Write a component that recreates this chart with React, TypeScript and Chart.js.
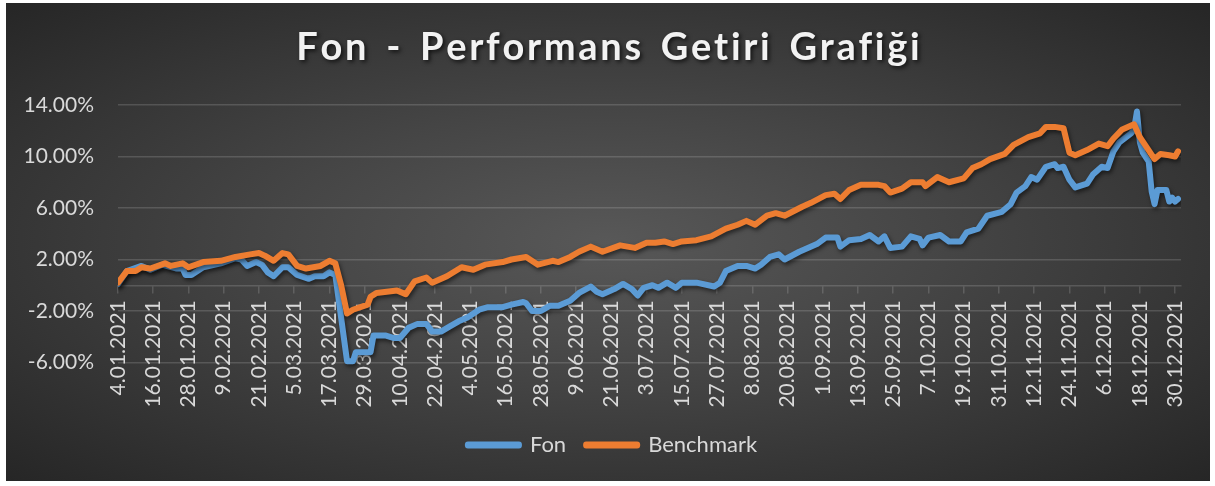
import React, { useEffect, useRef } from 'react';
import { Chart, registerables } from 'chart.js';

Chart.register(...registerables);

const TITLE = 'Fon - Performans Getiri Grafiği';

// x-axis tick labels (every 12 days starting 4.01.2021)
const xTickLabels = [
  '4.01.2021', '16.01.2021', '28.01.2021', '9.02.2021', '21.02.2021', '5.03.2021',
  '17.03.2021', '29.03.2021', '10.04.2021', '22.04.2021', '4.05.2021', '16.05.2021',
  '28.05.2021', '9.06.2021', '21.06.2021', '3.07.2021', '15.07.2021', '27.07.2021',
  '8.08.2021', '20.08.2021', '1.09.2021', '13.09.2021', '25.09.2021', '7.10.2021',
  '19.10.2021', '31.10.2021', '12.11.2021', '24.11.2021', '6.12.2021', '18.12.2021',
  '30.12.2021',
];

const yTicks = [-6, -2, 2, 6, 10, 14];

// day offsets since 4.01.2021, values in %
const fonDays = [
  0, 3, 8, 11, 15, 20, 22, 23, 25, 29, 35, 40, 42, 44, 47, 49, 51, 53, 56, 58,
  61, 65, 67, 70, 72, 74, 78, 80, 81, 86, 87, 91, 94, 96, 99, 102, 105, 107, 110, 113,
  116, 119, 123, 126, 131, 134, 138, 139, 141, 144, 147, 150, 154, 157, 161, 163, 165, 169, 172, 175,
  177, 179, 182, 184, 187, 190, 192, 197, 203, 205, 207, 211, 214, 217, 219, 222, 225, 227, 232, 238,
  241, 245, 246, 249, 253, 256, 259, 261, 263, 267, 270, 273, 274, 276, 280, 283, 287, 289, 293, 296,
  301, 304, 306, 309, 311, 313, 316, 319, 320, 322, 324, 326, 330, 332, 335, 337, 339, 341, 345, 346,
  347, 348, 349, 351, 352, 353, 354, 357, 358, 359, 360, 361,
];
const fonValues = [
  0.1, 1.1, 1.5, 1.2, 1.6, 1.3, 1.3, 0.8, 0.8, 1.4, 1.7, 2.1, 2.0, 1.5, 1.8, 1.6, 1.0, 0.7, 1.4, 1.4,
  0.8, 0.5, 0.7, 0.7, 1.0, 0.8, -5.9, -5.9, -5.2, -5.2, -3.9, -3.9, -4.1, -4.1, -3.3, -3.0, -3.0, -3.6, -3.6, -3.2,
  -2.8, -2.5, -1.9, -1.7, -1.7, -1.5, -1.3, -1.4, -2.0, -2.0, -1.6, -1.6, -1.2, -0.6, -0.1, -0.5, -0.7, -0.3, 0.1, -0.3,
  -0.8, -0.2, 0.0, -0.2, 0.2, -0.2, 0.2, 0.2, -0.1, 0.2, 1.1, 1.5, 1.5, 1.3, 1.6, 2.2, 2.4, 2.0, 2.6, 3.2,
  3.7, 3.7, 3.0, 3.5, 3.6, 3.9, 3.4, 3.8, 2.9, 3.0, 3.8, 3.6, 3.1, 3.7, 3.9, 3.4, 3.4, 4.1, 4.4, 5.4,
  5.7, 6.3, 7.2, 7.7, 8.4, 8.2, 9.2, 9.4, 9.1, 9.2, 8.2, 7.6, 7.9, 8.6, 9.2, 9.1, 10.4, 11.1, 11.8, 12.1,
  13.5, 11.1, 10.3, 9.6, 7.3, 6.3, 7.4, 7.4, 6.5, 6.8, 6.5, 6.7,
];

const benchmarkDays = [
  0, 3, 6, 8, 11, 16, 18, 22, 24, 29, 35, 40, 45, 48, 50, 53, 56, 58, 61, 64,
  69, 72, 74, 76, 78, 80, 85, 86, 88, 95, 98, 101, 105, 107, 112, 117, 121, 125, 131, 134,
  139, 143, 148, 150, 154, 157, 161, 165, 171, 176, 180, 183, 186, 189, 192, 197, 202, 207, 211, 214,
  217, 221, 224, 227, 233, 236, 241, 244, 246, 249, 253, 259, 261, 263, 267, 270, 274, 275, 279, 283,
  288, 291, 294, 297, 302, 305, 310, 314, 316, 319, 322, 324, 326, 330, 334, 337, 339, 342, 346, 348,
  353, 355, 358, 360, 361,
];
const benchmarkValues = [
  0.2, 1.1, 1.1, 1.4, 1.3, 1.7, 1.5, 1.7, 1.4, 1.8, 1.9, 2.2, 2.4, 2.5, 2.3, 1.9, 2.5, 2.4, 1.5, 1.3,
  1.5, 1.9, 1.7, 0.0, -2.2, -1.9, -1.5, -0.9, -0.6, -0.4, -0.7, 0.3, 0.6, 0.2, 0.7, 1.4, 1.2, 1.6, 1.8, 2.0,
  2.2, 1.6, 1.9, 1.8, 2.2, 2.6, 3.0, 2.6, 3.1, 2.9, 3.3, 3.3, 3.4, 3.2, 3.4, 3.5, 3.8, 4.4, 4.7, 5.0,
  4.7, 5.4, 5.6, 5.4, 6.1, 6.4, 7.0, 7.1, 6.7, 7.4, 7.8, 7.8, 7.7, 7.2, 7.5, 8.0, 8.0, 7.7, 8.4, 8.0,
  8.3, 9.1, 9.4, 9.8, 10.2, 10.9, 11.5, 11.8, 12.3, 12.3, 12.2, 10.3, 10.1, 10.5, 11.0, 10.8, 11.4, 12.1, 12.5, 11.5,
  9.8, 10.2, 10.1, 10.0, 10.4,
];

const FON_COLOR = '#5B9BD5';
const BENCH_COLOR = '#ED7D31';
const LABEL_COLOR = '#d9d9d9';
const GRID_COLOR = 'rgba(255,255,255,0.15)';

const toPoints = (days: number[], values: number[]) =>
  days.map((d, i) => ({ x: d, y: values[i] }));

const titlePlugin = {
  id: 'spacedTitle',
  afterDraw(chart: any) {
    const ctx = chart.ctx as CanvasRenderingContext2D;
    ctx.save();
    ctx.font = 'bold 38px Lato';
    const spacing = 2.7;
    const chars = Array.from(TITLE);
    const widths = chars.map((c) => ctx.measureText(c).width + (c === ' ' ? 5 : 0));
    const total = widths.reduce((a, b) => a + b, 0) + spacing * (chars.length - 1);
    let x = 602 - total / 2;
    ctx.textBaseline = 'middle';
    ctx.textAlign = 'left';
    ctx.fillStyle = '#f2f2f2';
    ctx.shadowColor = 'rgba(0,0,0,0.7)';
    ctx.shadowBlur = 4;
    ctx.shadowOffsetX = 2;
    ctx.shadowOffsetY = 2;
    chars.forEach((c, i) => {
      ctx.fillText(c, x, 45);
      x += widths[i] + spacing;
    });
    ctx.restore();
  },
};

const shadowPlugin = {
  id: 'lineShadow',
  beforeDatasetsDraw(chart: any) {
    const ctx = chart.ctx as CanvasRenderingContext2D;
    ctx.save();
    ctx.shadowColor = 'rgba(0,0,0,0.55)';
    ctx.shadowBlur = 4;
    ctx.shadowOffsetX = 1.5;
    ctx.shadowOffsetY = 2.5;
  },
  afterDatasetsDraw(chart: any) {
    chart.ctx.restore();
  },
};

// centre the legend under the whole chart box rather than the padded area
const legendShiftPlugin = {
  id: 'legendShift',
  afterLayout(chart: any) {
    const lg = chart.legend;
    if (lg) {
      lg.left += 19;
      lg.right += 19;
    }
  },
};

export default function App() {
  const canvasRef = useRef<HTMLCanvasElement | null>(null);

  useEffect(() => {
    if (!canvasRef.current) return;
    Chart.defaults.font.family = 'Lato';
    const chart = new Chart(canvasRef.current, {
      type: 'line',
      data: {
        datasets: [
          {
            label: 'Fon',
            data: toPoints(fonDays, fonValues),
            borderColor: FON_COLOR,
            backgroundColor: FON_COLOR,
            borderWidth: 6,
            pointRadius: 0,
            tension: 0,
            borderJoinStyle: 'round',
            borderCapStyle: 'round',
            order: 1,
          },
          {
            label: 'Benchmark',
            data: toPoints(benchmarkDays, benchmarkValues),
            borderColor: BENCH_COLOR,
            backgroundColor: BENCH_COLOR,
            borderWidth: 6,
            pointRadius: 0,
            tension: 0,
            borderJoinStyle: 'round',
            borderCapStyle: 'round',
            order: 0,
          },
        ],
      },
      options: {
        responsive: false,
        animation: false,
        layout: { padding: { top: 102, right: 29, bottom: 15, left: 0 } },
        plugins: {
          title: { display: false },
          tooltip: { enabled: false },
          legend: {
            display: true,
            position: 'bottom',
            labels: {
              color: LABEL_COLOR,
              font: { family: 'Lato', size: 22 },
              boxWidth: 51,
              boxHeight: 1,
              padding: 20,
              sort: (a: any, b: any) => a.datasetIndex - b.datasetIndex,
            },
          },
        },
        scales: {
          x: {
            type: 'linear',
            min: 0,
            max: 362,
            position: { y: 0 } as any,
            grid: {
              display: true,
              drawOnChartArea: false,
              drawTicks: true,
              tickLength: 7,
              color: GRID_COLOR,
              lineWidth: 1.5,
            },
            border: { display: true, color: GRID_COLOR, width: 1.5 },
            ticks: {
              stepSize: 12,
              includeBounds: false,
              autoSkip: false,
              maxRotation: 90,
              minRotation: 90,
              padding: 8,
              color: LABEL_COLOR,
              font: { family: 'Lato', size: 21 },
              callback: (v: any) => xTickLabels[Math.round(Number(v) / 12)] ?? '',
            },
            afterFit: (s: any) => {
              s.paddingLeft = 0;
              s.paddingRight = 0;
            },
          },
          y: {
            type: 'linear',
            min: -10,
            max: 14,
            afterBuildTicks: (s: any) => {
              s.ticks = yTicks.map((v) => ({ value: v }));
            },
            grid: { color: GRID_COLOR, lineWidth: 1.5, drawTicks: false },
            border: { display: false },
            ticks: {
              padding: 24,
              color: LABEL_COLOR,
              font: { family: 'Lato', size: 21 },
              callback: (v: any) => Number(v).toFixed(2) + '%',
            },
            afterFit: (s: any) => {
              s.width = 112;
              s.paddingTop = 0;
              s.paddingBottom = 0;
            },
          },
        },
      },
      plugins: [shadowPlugin, titlePlugin, legendShiftPlugin],
    });
    return () => chart.destroy();
  }, []);

  return (
    <div style={{ position: 'absolute', left: 0, top: 0, width: 1215, height: 486, background: '#ffffff' }}>
      <div
        style={{
          position: 'absolute',
          left: 6,
          top: 3,
          width: 1204,
          height: 478,
          background: 'radial-gradient(ellipse farthest-corner at 50% 50%, #585858 0%, #454545 40%, #262626 100%)',
        }}
      >
        <canvas ref={canvasRef} width={1204} height={478} style={{ display: 'block' }} />
      </div>
    </div>
  );
}
